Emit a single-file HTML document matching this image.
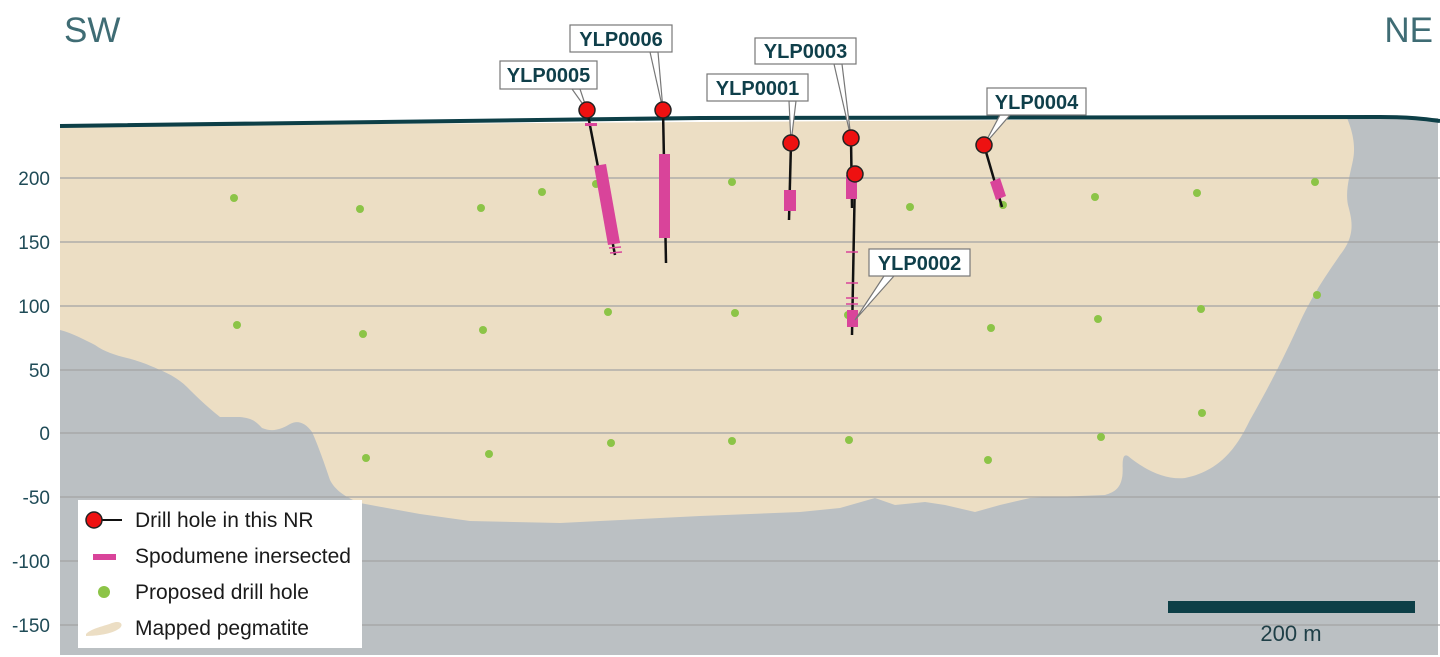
<!DOCTYPE html>
<html><head><meta charset="utf-8"><style>
html,body{margin:0;padding:0;background:#fff;}
svg{display:block;font-family:"Liberation Sans",Arial,sans-serif;}
</style></head><body>
<svg width="1440" height="657" viewBox="0 0 1440 657" xmlns="http://www.w3.org/2000/svg">
<rect x="0" y="0" width="1440" height="657" fill="#fff"/>
<path d="M60,126 L1438,118 L1438,655 L60,655 Z" fill="#bbc0c3"/>
<path d="M60,126 L1347,118 C1352,130 1356,145 1353,160 C1350,175 1345,190 1348,205 C1352,220 1356,235 1340,255 C1330,270 1315,290 1300,322 C1285,355 1270,385 1250,420 C1240,440 1225,470 1185,478 C1165,480 1145,470 1128,456 C1120,452 1124,470 1122,478 C1120,488 1115,492 1105,495 L1030,498 L1000,505 L975,512 L945,505 L925,502 L895,505 L875,498 L840,508 L800,512 L700,516 L600,521 L560,523 L470,521 L420,514 L387,508 L360,503 C345,497 335,490 330,480 C325,465 318,445 312,432 C305,422 297,420 290,424 C280,430 272,432 262,428 C255,420 250,418 240,417 L220,417 C205,405 195,395 187,387 C180,380 170,374 160,370 C145,363 135,360 127,358 C115,355 105,352 95,345 C85,340 72,333 60,330 Z" fill="#ecdec4"/>
<g stroke="#a3a3a3" stroke-width="1.2">
<line x1="60" y1="178" x2="1440" y2="178"/>
<line x1="60" y1="242" x2="1440" y2="242"/>
<line x1="60" y1="306" x2="1440" y2="306"/>
<line x1="60" y1="370" x2="1440" y2="370"/>
<line x1="60" y1="433" x2="1440" y2="433"/>
<line x1="60" y1="497" x2="1440" y2="497"/>
<line x1="60" y1="561" x2="1440" y2="561"/>
<line x1="60" y1="625" x2="1440" y2="625"/>
</g>
<path d="M60,126 C300,124 500,120 700,118 C900,116 1100,117 1380,117 C1410,117 1425,119 1440,121" fill="none" stroke="#0d3f47" stroke-width="4"/>
<g fill="#1f4b57" font-size="19" text-anchor="end">
<text x="50" y="185">200</text><text x="50" y="249">150</text><text x="50" y="313">100</text>
<text x="50" y="377">50</text><text x="50" y="440">0</text><text x="50" y="504">-50</text>
<text x="50" y="568">-100</text><text x="50" y="632">-150</text>
</g>
<text x="64" y="42" font-size="35" fill="#3f6c74">SW</text>
<text x="1433" y="42" font-size="35" fill="#3f6c74" text-anchor="end">NE</text>
<g fill="#8cc447">
<circle cx="234" cy="198" r="4"/><circle cx="360" cy="209" r="4"/><circle cx="481" cy="208" r="4"/><circle cx="542" cy="192" r="4"/><circle cx="596" cy="184" r="4"/><circle cx="732" cy="182" r="4"/><circle cx="910" cy="207" r="4"/><circle cx="1003" cy="205" r="4"/><circle cx="1095" cy="197" r="4"/><circle cx="1197" cy="193" r="4"/><circle cx="1315" cy="182" r="4"/>
<circle cx="237" cy="325" r="4"/><circle cx="363" cy="334" r="4"/><circle cx="483" cy="330" r="4"/><circle cx="608" cy="312" r="4"/><circle cx="735" cy="313" r="4"/><circle cx="848" cy="315" r="4"/><circle cx="991" cy="328" r="4"/><circle cx="1098" cy="319" r="4"/><circle cx="1201" cy="309" r="4"/><circle cx="1317" cy="295" r="4"/>
<circle cx="366" cy="458" r="4"/><circle cx="489" cy="454" r="4"/><circle cx="611" cy="443" r="4"/><circle cx="732" cy="441" r="4"/><circle cx="849" cy="440" r="4"/><circle cx="988" cy="460" r="4"/><circle cx="1101" cy="437" r="4"/><circle cx="1202" cy="413" r="4"/>
</g>
<g stroke="#111" stroke-width="2.5" fill="none">
<line x1="587" y1="110" x2="615" y2="255"/>
<line x1="663" y1="110" x2="666" y2="263"/>
<line x1="791" y1="143" x2="789" y2="220"/>
<line x1="851" y1="138" x2="852" y2="208"/>
<line x1="855" y1="174" x2="852" y2="335"/>
<line x1="984" y1="145" x2="1002" y2="207"/>
</g>
<g fill="#d9449a">
<polygon points="594,166 606,164 620,243 608,245"/>
<rect x="659" y="154" width="11" height="84"/>
<rect x="784" y="190" width="12" height="21"/>
<rect x="846" y="175" width="11" height="24"/>
<rect x="847" y="310" width="11" height="17"/>
<polygon points="990,182 1000,178 1006,196 996,200"/>
<rect x="585" y="123" width="12" height="3"/>
</g>
<g stroke="#d9449a" stroke-width="1.5">
<line x1="608" y1="243" x2="620" y2="242"/><line x1="609" y1="248" x2="621" y2="247"/><line x1="610" y1="253" x2="622" y2="252"/>
<line x1="846" y1="252" x2="858" y2="252"/><line x1="846" y1="283" x2="858" y2="283"/><line x1="846" y1="298" x2="858" y2="298"/><line x1="846" y1="304" x2="858" y2="304"/>
</g>
<g fill="#fff" stroke="#777" stroke-width="1.2">
<polygon points="572,89 580,89 587,110"/>
<polygon points="650,52 658,52 663,110"/>
<polygon points="789,101 796,101 791,143"/>
<polygon points="834,64 842,64 851,138"/>
<polygon points="1000,115 1010,115 984,145"/>
<polygon points="884,276 894,276 855,320"/>
</g>
<g fill="#ee1111" stroke="#222" stroke-width="1.5">
<circle cx="587" cy="110" r="8"/><circle cx="663" cy="110" r="8"/><circle cx="791" cy="143" r="8"/>
<circle cx="851" cy="138" r="8"/><circle cx="855" cy="174" r="8"/><circle cx="984" cy="145" r="8"/>
</g>
<g fill="#fff" stroke="#777" stroke-width="1.2">
<rect x="500" y="61" width="97" height="28"/>
<rect x="570" y="25" width="102" height="27"/>
<rect x="755" y="38" width="101" height="26"/>
<rect x="707" y="74" width="101" height="27"/>
<rect x="987" y="88" width="99" height="27"/>
<rect x="869" y="249" width="101" height="27"/>
</g>
<g fill="#0f3f4a" font-size="20" font-weight="bold" text-anchor="middle">
<text x="548.5" y="82">YLP0005</text>
<text x="621" y="46">YLP0006</text>
<text x="805.5" y="58">YLP0003</text>
<text x="757.5" y="95">YLP0001</text>
<text x="1036.5" y="109">YLP0004</text>
<text x="919.5" y="270">YLP0002</text>
</g>
<rect x="78" y="500" width="284" height="148" fill="#fff"/>
<line x1="94" y1="520" x2="122" y2="520" stroke="#111" stroke-width="2"/>
<circle cx="94" cy="520" r="8" fill="#ee1111" stroke="#222" stroke-width="1.5"/>
<rect x="93" y="554" width="23" height="6" fill="#d9449a"/>
<circle cx="104" cy="592" r="6" fill="#8cc447"/>
<path d="M86,634 C92,628 105,626 112,623 C120,620 124,624 120,628 C114,633 100,636 86,636 Z" fill="#ecdec4"/>
<g fill="#1a1a1a" font-size="21">
<text x="135" y="527">Drill hole in this NR</text>
<text x="135" y="563">Spodumene inersected</text>
<text x="135" y="599">Proposed drill hole</text>
<text x="135" y="635">Mapped pegmatite</text>
</g>
<rect x="1168" y="601" width="247" height="12" fill="#0d3f47"/>
<text x="1291" y="641" font-size="22" fill="#1f3f47" text-anchor="middle">200 m</text>
</svg>
</body></html>
